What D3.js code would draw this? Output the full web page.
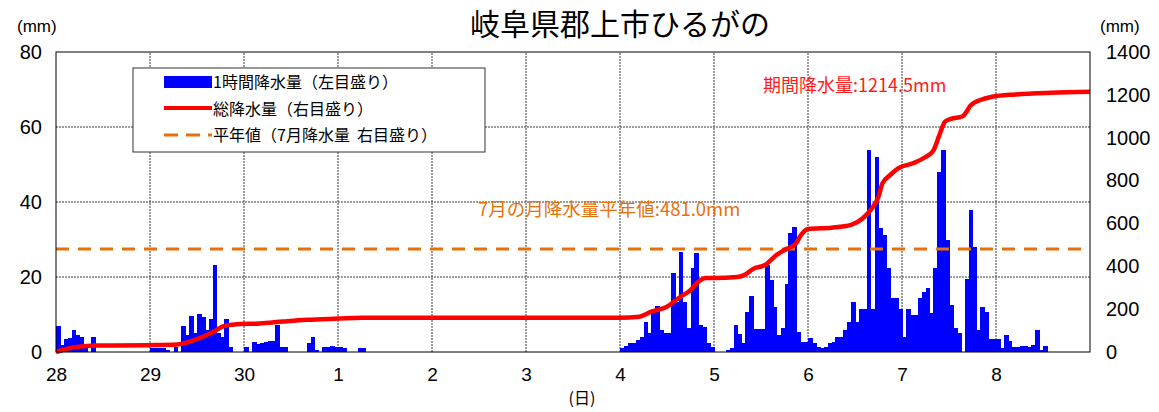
<!DOCTYPE html>
<html lang="ja">
<head>
  <meta charset="UTF-8">
  <title>岐阜県郡上市ひるがの</title>
  <script src="https://d3js.org/d3.v7.min.js"></script>
  <style>
    body { margin: 0; background: #fff; }
  </style>
</head>

<body>
  <div id="chart"></div>
  <script>
    // 日付ラベル（6/28〜7/8）
    const dayLabels = ["28", "29", "30", "1", "2", "3", "4", "5", "6", "7", "8"];

    // 1時間降水量 (mm) 各日24時間分
    const rain28 = [7, 2, 3.5, 3.7, 6, 4.5, 4, 1.3, 0, 4, 0, 0, 0, 0, 0, 0, 0, 0, 0, 0, 0, 0, 0, 0];
    const rain29 = [1, 1, 1, 1, 0.5, 0, 1.3, 0, 7, 4.5, 9.7, 5, 10.1, 9.4, 6, 8.8, 23.2, 5, 4, 8.8, 1.4, 0, 0, 0];
    const rain30 = [1.3, 0, 2.8, 2.2, 2.5, 2.8, 3, 3, 7.2, 1.4, 1.4, 0, 0, 0, 0, 0, 2.5, 4.1, 0.5, 0, 1.4, 1.4, 1.5, 1.4];
    const rain01 = [1.4, 1.2, 0, 0, 0, 1, 1, 0, 0, 0, 0, 0, 0, 0, 0, 0, 0, 0, 0, 0, 0, 0, 0, 0];
    const rain02 = [0, 0, 0, 0, 0, 0, 0, 0, 0, 0, 0, 0, 0, 0, 0, 0, 0, 0, 0, 0, 0, 0, 0, 0];
    const rain03 = [0, 0, 0, 0, 0, 0, 0, 0, 0, 0, 0, 0, 0, 0, 0, 0, 0, 0, 0, 0, 0, 0, 0, 0];
    const rain04 = [1, 1.7, 2.4, 2.4, 3.2, 4.1, 8.1, 5, 10.8, 12.3, 5.9, 5, 5, 21.2, 13.4, 26.6, 13.3, 6.4, 22.4, 26.4, 7.2, 6.8, 2.4, 1.4];
    const rain05 = [0, 0, 0, 0.5, 1, 7.2, 4.7, 2.4, 10.8, 15, 6.1, 6.1, 6.1, 23.2, 19.2, 12.1, 4.5, 6.4, 18.1, 31.7, 33.4, 5.4, 2.8, 2.8];
    const rain06 = [3.7, 2.3, 1.4, 1, 1.4, 2.3, 2.8, 4.1, 4.1, 6, 8.1, 13.4, 8.1, 11.6, 11.6, 54, 11.6, 52, 33, 31.2, 22.3, 14.3, 14.3, 11.6];
    const rain07 = [4, 11.6, 9.9, 9.9, 14.3, 16.1, 17, 10.5, 22.3, 48, 54, 30, 12.5, 6.3, 5, 0, 19.4, 38, 28, 5.9, 12.1, 10.8, 3.6, 3.6];
    const rain08 = [3.6, 1, 4.5, 3, 1.4, 1.4, 1.7, 1.7, 1.4, 1.9, 5.9, 0.5, 1.7, 0, 0, 0, 0, 0, 0, 0, 0, 0, 0, 0];

    // 総降水量 (mm) : 6/28 0時からの経過時間と累積値
    const totalHours = [0, 4, 10, 24, 31, 36, 40, 43, 46, 52, 58, 64, 72, 78, 144, 149, 152, 156, 159, 162, 164,
      166, 168, 174, 176, 178, 181, 184, 186, 189, 190, 192, 198, 203, 206, 208, 210, 211, 213, 215, 219, 222,
      224, 225.5, 227, 228.5, 231.5, 232.5, 233.5, 236, 239, 245, 254, 264];
    const totalValues = [0, 20, 30, 32, 35, 60, 92, 122, 129, 133, 142, 150, 156, 160, 160, 165, 188, 211, 252, 289, 328,
      345, 345, 350, 362, 388, 406, 453, 476, 508, 540, 574, 580, 593, 624, 663, 725, 787, 826, 857, 882, 910,
      940, 1010, 1075, 1088, 1100, 1122, 1150, 1176, 1191, 1202, 1210, 1214.5];

    const leftTicks = [0, 20, 40, 60, 80];
    const rightTicks = [0, 200, 400, 600, 800, 1000, 1200, 1400];
    const normalJuly = 481.0;
    const periodTotal = 1214.5;

    const hourly = [].concat(rain28, rain29, rain30, rain01, rain02, rain03,
      rain04, rain05, rain06, rain07, rain08);

    drawChart();

    function drawChart() {
      const svgWidth = 1159;
      const svgHeight = 412;
      const margin = { top: 52, right: 69, bottom: 60, left: 56 };
      const jp = "'Noto Sans CJK JP', sans-serif";
      const num = "'Liberation Sans', Arial, sans-serif";

      const svg = d3.select("#chart")
        .append("svg")
        .attr("width", svgWidth)
        .attr("height", svgHeight);

      const xScale = d3.scaleLinear()
        .domain([0, hourly.length])
        .range([margin.left, svgWidth - margin.right]);

      const yLeft = d3.scaleLinear()
        .domain([0, 80])
        .range([svgHeight - margin.bottom, margin.top]);

      const yRight = d3.scaleLinear()
        .domain([0, 1400])
        .range([svgHeight - margin.bottom, margin.top]);

      const x0 = margin.left, x1 = svgWidth - margin.right;
      const y0 = svgHeight - margin.bottom, y1 = margin.top;

      // グリッド
      svg.append("g")
        .selectAll("line")
        .data(leftTicks.slice(1, -1))
        .join("line")
        .attr("x1", x0).attr("x2", x1)
        .attr("y1", d => yLeft(d)).attr("y2", d => yLeft(d))
        .attr("stroke", "#3a3a3a")
        .attr("stroke-dasharray", "2,1");

      svg.append("g")
        .selectAll("line")
        .data(dayLabels.slice(1).map((d, i) => (i + 1) * 24))
        .join("line")
        .attr("x1", d => xScale(d)).attr("x2", d => xScale(d))
        .attr("y1", y0).attr("y2", y1)
        .attr("stroke", "#3a3a3a")
        .attr("stroke-dasharray", "2,1");

      // 1時間降水量
      const barW = xScale(1) - xScale(0);
      svg.append("g")
        .attr("shape-rendering", "crispEdges")
        .selectAll("rect")
        .data(hourly.map((v, i) => ({ v, i })).filter(d => d.v > 0))
        .join("rect")
        .attr("x", d => xScale(d.i))
        .attr("width", barW + 0.8)
        .attr("y", d => yLeft(d.v))
        .attr("height", d => yLeft(0) - yLeft(d.v))
        .attr("fill", "#0000ff");

      // 平年値
      svg.append("line")
        .attr("x1", x0).attr("x2", x1)
        .attr("y1", yRight(normalJuly)).attr("y2", yRight(normalJuly))
        .attr("stroke", "#e8700a")
        .attr("stroke-width", 3)
        .attr("stroke-dasharray", "13,9");

      // 総降水量
      const line = d3.line()
        .x(d => xScale(d[0]))
        .y(d => yRight(d[1]))
        .curve(d3.curveMonotoneX);

      svg.append("path")
        .datum(d3.zip(totalHours, totalValues))
        .attr("d", line)
        .attr("fill", "none")
        .attr("stroke", "#ff0000")
        .attr("stroke-width", 4.5)
        .attr("stroke-linejoin", "round");

      // 枠
      svg.append("rect")
        .attr("x", x0).attr("y", y1)
        .attr("width", x1 - x0).attr("height", y0 - y1)
        .attr("fill", "none")
        .attr("stroke", "#000");

      // 軸
      const xAxis = d3.axisBottom(xScale)
        .tickValues(dayLabels.map((d, i) => i * 24))
        .tickFormat((d, i) => dayLabels[i])
        .tickSize(0)
        .tickPadding(16);

      svg.append("g")
        .attr("transform", `translate(0, ${y0})`)
        .call(xAxis)
        .call(g => g.select(".domain").remove())
        .selectAll("text")
        .attr("font-family", num)
        .attr("font-size", "19px")
        .attr("fill", "#000");

      svg.append("g")
        .attr("transform", `translate(${x0}, 0)`)
        .call(d3.axisLeft(yLeft).tickValues(leftTicks).tickFormat(d3.format("d")).tickSize(0).tickPadding(14))
        .call(g => g.select(".domain").remove())
        .selectAll("text")
        .attr("font-family", num)
        .attr("font-size", "20px")
        .attr("fill", "#000");

      svg.append("g")
        .attr("transform", `translate(${x1}, 0)`)
        .call(d3.axisRight(yRight).tickValues(rightTicks).tickFormat(d3.format("d")).tickSize(0).tickPadding(16))
        .call(g => g.select(".domain").remove())
        .selectAll("text")
        .attr("font-family", num)
        .attr("font-size", "20px")
        .attr("fill", "#000");

      svg.append("text")
        .attr("x", 17).attr("y", 32)
        .attr("font-family", num).attr("font-size", "17px")
        .text("(mm)");

      svg.append("text")
        .attr("x", 1100).attr("y", 32)
        .attr("font-family", num).attr("font-size", "17px")
        .text("(mm)");

      svg.append("text")
        .attr("x", 582).attr("y", 404)
        .attr("text-anchor", "middle")
        .attr("font-family", jp).attr("font-size", "16px")
        .text("(日)");

      // タイトル
      svg.append("text")
        .attr("x", 620).attr("y", 35)
        .attr("text-anchor", "middle")
        .attr("font-family", jp).attr("font-size", "30px")
        .text("岐阜県郡上市ひるがの");

      // 注記
      svg.append("text")
        .attr("x", 763).attr("y", 92)
        .attr("font-family", jp).attr("font-size", "18px")
        .attr("fill", "#ff1a1a")
        .text("期間降水量:" + periodTotal.toFixed(1) + "mm");

      svg.append("text")
        .attr("x", 478).attr("y", 216)
        .attr("font-family", jp).attr("font-size", "18.5px")
        .attr("fill", "#e8700a")
        .text("7月の月降水量平年値:" + normalJuly.toFixed(1) + "mm");

      // 凡例
      const legend = svg.append("g");
      legend.append("rect")
        .attr("x", 133).attr("y", 68)
        .attr("width", 352).attr("height", 84)
        .attr("fill", "#fff")
        .attr("stroke", "#333");

      legend.append("rect")
        .attr("x", 164).attr("y", 76)
        .attr("width", 48).attr("height", 12)
        .attr("fill", "#0000ff");

      legend.append("line")
        .attr("x1", 164).attr("x2", 212)
        .attr("y1", 108).attr("y2", 108)
        .attr("stroke", "#ff0000").attr("stroke-width", 4);

      legend.append("line")
        .attr("x1", 164).attr("x2", 212)
        .attr("y1", 135).attr("y2", 135)
        .attr("stroke", "#e8700a").attr("stroke-width", 3)
        .attr("stroke-dasharray", "14,8");

      const legendTexts = ["1時間降水量（左目盛り）", "総降水量（右目盛り）", "平年値（7月降水量\u00a0\u00a0右目盛り）"];
      legend.selectAll("text")
        .data(legendTexts)
        .join("text")
        .attr("x", 213)
        .attr("y", (d, i) => 88 + i * 26.5)
        .attr("font-family", jp)
        .attr("font-size", "16px")
        .text(d => d);
    }
  </script>
</body>
</html>
